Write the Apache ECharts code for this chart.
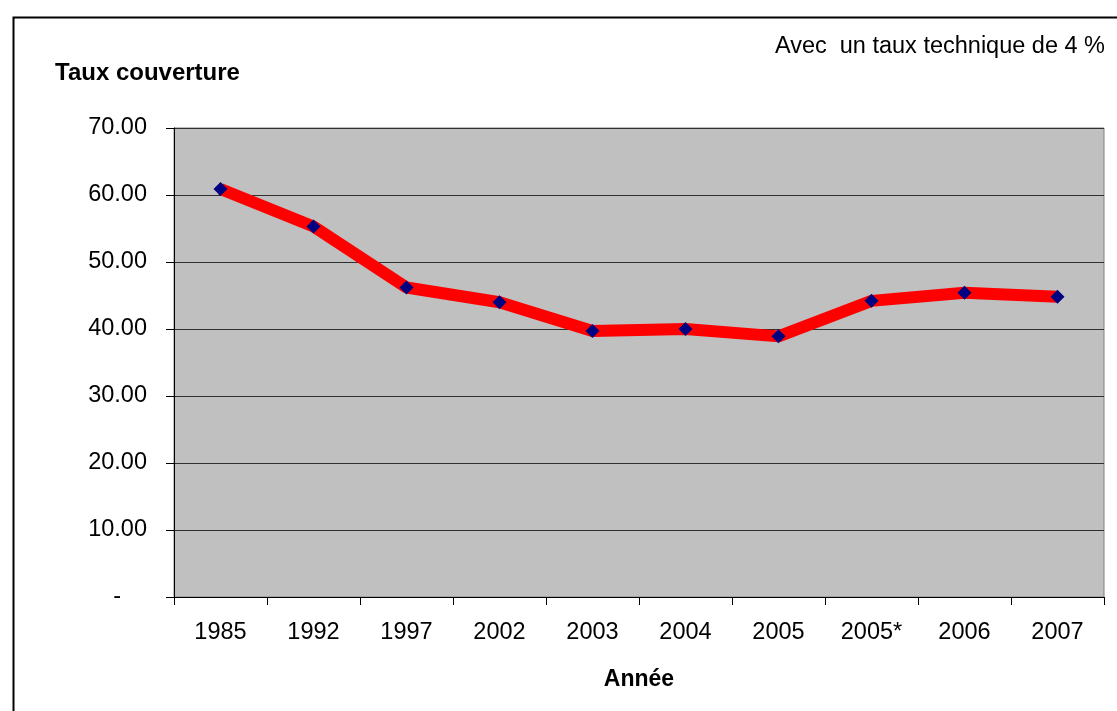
<!DOCTYPE html>
<html>
<head>
<meta charset="utf-8">
<script src="https://cdn.jsdelivr.net/npm/echarts@6/dist/echarts.min.js"></script>
<style>
html,body{margin:0;padding:0;background:#fff;}
#c{width:1117px;height:711px;}
</style>
</head>
<body>
<div id="c"></div>
<script>
const categories = ['1985','1992','1997','2002','2003','2004','2005','2005*','2006','2007'];
const tauxCouverture = [60.9, 55.3, 46.2, 44.0, 39.7, 40.0, 38.9, 44.2, 45.4, 44.8];
const yTitle = 'Taux couverture';
const xTitle = 'Année';
const subtitle = 'Avec  un taux technique de 4 %';

const chart = echarts.init(document.getElementById('c'));
const font = 'Liberation Sans, Arial, sans-serif';
chart.setOption({
  backgroundColor: '#fff',
  animation: false,
  graphic: [{
    type: 'rect', left: 11, top: 15, z: -10,
    shape: {width: 1200, height: 800},
    style: {fill: 'none', stroke: '#000', lineWidth: 2}
  }],
  title: [
    {text: yTitle, left: 50, top: 56, textStyle: {fontFamily: font, fontSize: 24, fontWeight: 'bold', color: '#000'}},
    {text: subtitle, right: 7, top: 30, textStyle: {fontFamily: font, fontSize: 23.5, fontWeight: 'normal', color: '#000'}}
  ],
  grid: {left: 174, right: 13, top: 128, bottom: 114, show: true, backgroundColor: '#C0C0C0', borderColor: '#808080', borderWidth: 1},
  xAxis: {
    type: 'category', data: categories, boundaryGap: true,
    name: xTitle, nameLocation: 'middle', nameGap: 71,
    nameTextStyle: {fontFamily: font, fontSize: 23, fontWeight: 'bold', color: '#000'},
    axisLine: {lineStyle: {color: '#000', width: 1}},
    axisTick: {show: true, alignWithLabel: false, length: 8, lineStyle: {color: '#000'}},
    axisLabel: {fontFamily: font, fontSize: 23.5, color: '#000', margin: 24}
  },
  yAxis: {
    type: 'value', min: 0, max: 70, interval: 10,
    axisLine: {show: true, lineStyle: {color: '#000', width: 1}},
    axisTick: {show: true, length: 8, lineStyle: {color: '#000'}},
    axisLabel: {fontFamily: font, fontSize: 23.5, color: '#000', margin: 27,
      formatter: v => v === 0 ? '{d|-}' : v.toFixed(2),
      rich: {d: {fontFamily: font, fontSize: 23.5, color: '#000', padding: [0, 26, 0, 0]}}},
    splitLine: {show: true, lineStyle: {color: '#303030', width: 1}}
  },
  series: [{
    type: 'line', data: tauxCouverture,
    lineStyle: {color: '#FF0000', width: 12},
    itemStyle: {color: '#000080'},
    symbol: 'diamond', symbolSize: 14, showSymbol: true
  }]
});
</script>
</body>
</html>
